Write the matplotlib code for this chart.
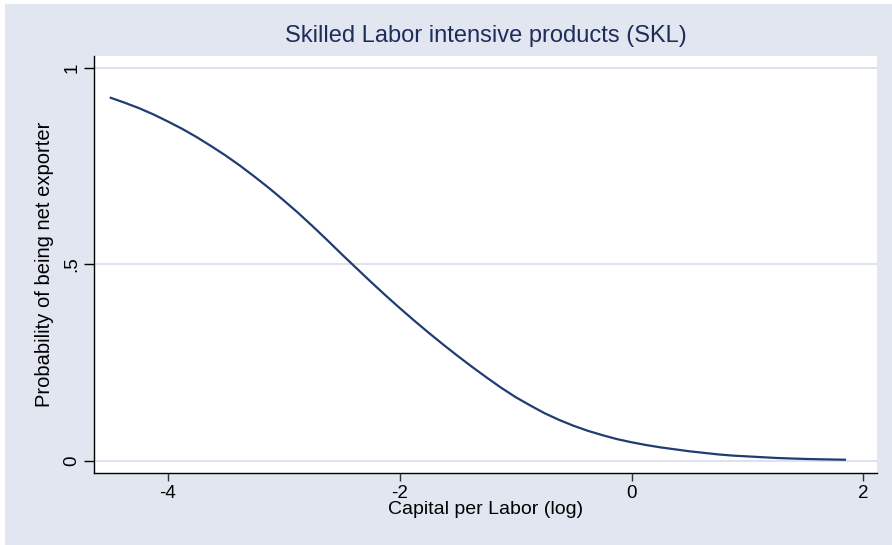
import matplotlib
matplotlib.use("Agg")
import matplotlib.pyplot as plt
from matplotlib.patches import Rectangle
from matplotlib.ticker import FixedLocator

plt.rcParams['font.family'] = ['Liberation Sans', 'DejaVu Sans']

# Predicted probability of being a net exporter vs. log capital per labor
capital_per_labor_log = [-4.5, -4.375, -4.25, -4.125, -4.0, -3.875, -3.75, -3.625, -3.5, -3.375,
                         -3.25, -3.125, -3.0, -2.875, -2.75, -2.625, -2.5, -2.375, -2.25, -2.125,
                         -2.0, -1.875, -1.75, -1.625, -1.5, -1.375, -1.25, -1.125, -1.0, -0.875,
                         -0.75, -0.625, -0.5, -0.375, -0.25, -0.125, 0.0, 0.125, 0.25, 0.375,
                         0.5, 0.625, 0.75, 0.875, 1.0, 1.125, 1.25, 1.375, 1.5, 1.625,
                         1.75, 1.85]
prob_net_exporter = [0.925, 0.912, 0.898, 0.882, 0.864, 0.845, 0.824, 0.801, 0.777, 0.751,
                     0.723, 0.694, 0.663, 0.631, 0.597, 0.562, 0.526, 0.491, 0.456, 0.422,
                     0.389, 0.357, 0.326, 0.296, 0.267, 0.239, 0.212, 0.186, 0.162, 0.141,
                     0.121, 0.104, 0.089, 0.076, 0.065, 0.055, 0.047, 0.040, 0.034, 0.029,
                     0.024, 0.020, 0.016, 0.013, 0.011, 0.009, 0.007, 0.0057, 0.0045, 0.0037,
                     0.003, 0.0025]

x_ticks = [-4, -2, 0, 2]
x_tick_labels = ["-4", "-2", "0", "2"]
y_ticks = [0, 0.5, 1]
y_tick_labels = ["0", ".5", "1"]

title = "Skilled Labor intensive products (SKL)"
x_label = "Capital per Labor (log)"
y_label = "Probability of being net exporter"

W, H = 892, 545
fig = plt.figure(figsize=(W / 100, H / 100), dpi=100, facecolor="white")

bg = "#E1E6F0"
fig.patches.append(Rectangle((5 / W, 0), 1 - 5 / W, 1 - 4 / H, transform=fig.transFigure,
                             facecolor=bg, edgecolor="none", zorder=-10))

ax = fig.add_axes([94.3 / W, (H - 472.7) / H, (877 - 94.3) / W, (472.7 - 56) / H])
ax.set_facecolor("white")

ax.plot(capital_per_labor_log, prob_net_exporter, color="#1F3C73", lw=1.6,
        solid_capstyle="butt", solid_joinstyle="round", zorder=3)

ax.set_xlim(-4.633, 2.117)
ax.set_ylim(-0.0305, 1.0305)

ax.xaxis.set_major_locator(FixedLocator(x_ticks))
ax.set_xticklabels(x_tick_labels)
ax.yaxis.set_major_locator(FixedLocator(y_ticks))
ax.set_yticklabels(y_tick_labels, rotation=90, va="center")

for yv in y_ticks:
    ax.axhline(yv, color="#DCE3EF", lw=1.4, zorder=1)

for side in ("top", "right"):
    ax.spines[side].set_visible(False)
for side in ("left", "bottom"):
    ax.spines[side].set_color("black")
    ax.spines[side].set_linewidth(1.0)

ax.tick_params(axis="x", length=6, width=1, color="#333333", labelsize=13.5, pad=3)
ax.tick_params(axis="y", length=7, width=1, color="black", labelsize=13.5, pad=3)

ax.set_xlabel(x_label, fontsize=14, labelpad=-1)
ax.set_ylabel(y_label, fontsize=14.5, labelpad=7)
ax.set_title(title, fontsize=17, color="#1E2D5A", pad=10)

fig.savefig("out.png", dpi=100, facecolor=fig.get_facecolor())
